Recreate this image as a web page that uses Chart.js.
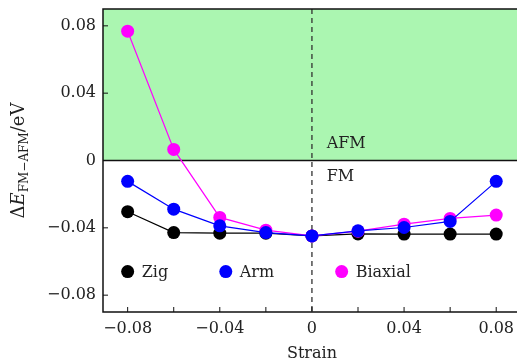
<!DOCTYPE html>
<html>
<head>
<meta charset="utf-8">
<script src="https://cdn.jsdelivr.net/npm/chart.js@4/dist/chart.umd.min.js"></script>
<style>
  html, body { margin: 0; padding: 0; background: #fff; overflow: hidden; }
  canvas { display: block; }
</style>
</head>
<body>
<canvas id="strain-chart" width="517" height="363"></canvas>
<script>
// energy difference vs strain for three strain directions
const strain = [-0.08, -0.06, -0.04, -0.02, 0, 0.02, 0.04, 0.06, 0.08];
const zig = [-0.0304, -0.0428, -0.0432, -0.0432, -0.0448, -0.0436, -0.0437, -0.0437, -0.0437];
const arm = [-0.0124, -0.0289, -0.0388, -0.0428, -0.0448, -0.0418, -0.0398, -0.0362, -0.0124];
const biaxial = [0.0768, 0.0066, -0.0338, -0.0414, -0.0448, -0.0420, -0.0378, -0.0344, -0.0324];

const seriesNames = ['Zig', 'Arm', 'Biaxial'];
const seriesColors = ['#000000', '#0000ff', '#ff00ff'];

const xTicks = [-0.08, -0.06, -0.04, -0.02, 0, 0.02, 0.04, 0.06, 0.08];
const xLabels = [-0.08, -0.04, 0, 0.04, 0.08];
const yTicks = [-0.08, -0.04, 0, 0.04, 0.08];

const SERIF = '"DejaVu Serif", serif';
const TEXT = '#222';

function fmt(v) {
    if (Math.abs(v) < 1e-9) return '0';
    return (v < 0 ? '\u2212' : '') + Math.abs(v).toFixed(2);
}

function pts(ys) {
    return strain.map((s, i) => ({x: s, y: ys[i]}));
}

function series(label, ys, color, order) {
    return {
        label: label,
        data: pts(ys),
        borderColor: color,
        backgroundColor: color,
        pointBackgroundColor: color,
        pointBorderColor: color,
        pointRadius: 6.5,
        pointBorderWidth: 0,
        borderWidth: 1.2,
        tension: 0,
        order: order
    };
}

// legend entries sit inside the plot, placed in data units
const legendY = -0.066;
const legendX = [-0.08, -0.0374, 0.0129];

const decor = {
    id: 'decor',
    beforeDatasetsDraw(chart) {
        const {ctx, chartArea: a, scales: {x, y}} = chart;
        const right = chart.width;   // plot runs off the right edge
        const y0 = y.getPixelForValue(0);
        const x0 = x.getPixelForValue(0);
        ctx.save();
        // AFM region
        ctx.fillStyle = '#abf6b1';
        ctx.fillRect(a.left, a.top, right - a.left, y0 - a.top);
        ctx.strokeStyle = '#111';
        ctx.lineWidth = 1.5;
        ctx.beginPath();
        ctx.moveTo(a.left, y0);
        ctx.lineTo(right, y0);
        ctx.stroke();
        // dashed line at zero strain
        ctx.setLineDash([5, 4]);
        ctx.strokeStyle = '#333';
        ctx.lineWidth = 1.3;
        ctx.beginPath();
        ctx.moveTo(x0, a.top);
        ctx.lineTo(x0, a.bottom);
        ctx.stroke();
        ctx.setLineDash([]);

        ctx.fillStyle = TEXT;
        ctx.font = '16px ' + SERIF;
        ctx.textAlign = 'left';
        ctx.textBaseline = 'middle';
        ctx.fillText('AFM', x.getPixelForValue(0.0064), y.getPixelForValue(0.0096));
        ctx.fillText('FM', x.getPixelForValue(0.0064), y.getPixelForValue(-0.0096));
        ctx.restore();
    },
    afterDraw(chart) {
        const {ctx, chartArea: a, scales: {x, y}} = chart;
        const right = chart.width;
        ctx.save();
        // frame without the right side
        ctx.strokeStyle = '#111';
        ctx.lineWidth = 1.5;
        ctx.beginPath();
        ctx.moveTo(right, a.top);
        ctx.lineTo(a.left, a.top);
        ctx.lineTo(a.left, a.bottom);
        ctx.lineTo(right, a.bottom);
        ctx.stroke();

        // inward ticks
        ctx.lineWidth = 1;
        ctx.beginPath();
        xTicks.forEach(v => {
            const px = x.getPixelForValue(v);
            ctx.moveTo(px, a.bottom);
            ctx.lineTo(px, a.bottom - 5);
        });
        yTicks.forEach(v => {
            const py = y.getPixelForValue(v);
            ctx.moveTo(a.left, py);
            ctx.lineTo(a.left + 5, py);
        });
        ctx.stroke();

        // tick labels
        ctx.fillStyle = TEXT;
        ctx.font = '16px ' + SERIF;
        ctx.textBaseline = 'middle';
        ctx.textAlign = 'center';
        xLabels.forEach(v => ctx.fillText(fmt(v), x.getPixelForValue(v), a.bottom + 17));
        ctx.textAlign = 'right';
        yTicks.forEach(v => ctx.fillText(fmt(v), a.left - 7, y.getPixelForValue(v)));

        // legend
        ctx.textAlign = 'left';
        const ly = y.getPixelForValue(legendY);
        seriesNames.forEach((name, i) => {
            const lx = x.getPixelForValue(legendX[i]);
            ctx.fillStyle = seriesColors[i];
            ctx.beginPath();
            ctx.arc(lx, ly, 6.5, 0, Math.PI * 2);
            ctx.fill();
            ctx.fillStyle = TEXT;
            ctx.fillText(name, lx + 14, ly + 1);
        });

        // x title
        ctx.textAlign = 'center';
        ctx.fillText('Strain', x.getPixelForValue(0), 354);

        // y title: ΔE_{FM−AFM}/eV
        const parts = [
            {t: '\u0394', f: '18px ' + SERIF, dy: 0},
            {t: 'E', f: 'italic 18px ' + SERIF, dy: 0},
            {t: 'FM\u2212AFM', f: '12px ' + SERIF, dy: 4},
            {t: '/eV', f: '18px ' + SERIF, dy: 0}
        ];
        let total = 0;
        parts.forEach(p => { ctx.font = p.f; p.w = ctx.measureText(p.t).width; total += p.w; });
        ctx.translate(24, (a.top + a.bottom) / 2);
        ctx.rotate(-Math.PI / 2);
        ctx.textAlign = 'left';
        ctx.textBaseline = 'alphabetic';
        let cx = -total / 2;
        parts.forEach(p => {
            ctx.font = p.f;
            ctx.fillText(p.t, cx, p.dy);
            cx += p.w;
        });
        ctx.restore();
    }
};

new Chart(document.getElementById('strain-chart'), {
    type: 'line',
    data: {
        datasets: [
            series('Arm', arm, seriesColors[1], 0),
            series('Biaxial', biaxial, seriesColors[2], 1),
            series('Zig', zig, seriesColors[0], 2)
        ]
    },
    options: {
        responsive: false,
        animation: false,
        devicePixelRatio: 1,
        layout: {padding: {top: 9, right: 0, left: 0, bottom: 0}},
        plugins: {legend: {display: false}, tooltip: {enabled: false}},
        scales: {
            x: {
                type: 'linear',
                min: -0.0907,
                max: 0.0862,
                grid: {display: false},
                border: {display: false},
                ticks: {display: false},
                afterFit: s => { s.height = 51; }
            },
            y: {
                type: 'linear',
                min: -0.09,
                max: 0.09,
                grid: {display: false},
                border: {display: false},
                ticks: {display: false},
                afterFit: s => { s.width = 103; }
            }
        }
    },
    plugins: [decor]
});
</script>
</body>
</html>
